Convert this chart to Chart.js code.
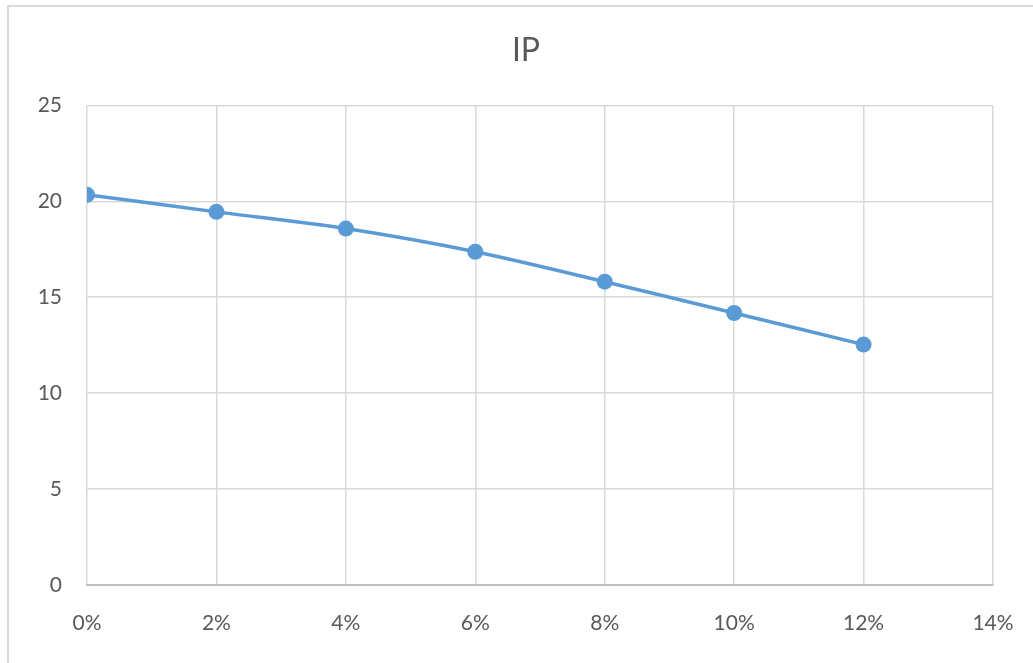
<!DOCTYPE html>
<html>
<head>
<meta charset="utf-8">
<title>IP</title>
<script src="https://cdn.jsdelivr.net/npm/chart.js@4.4.0/dist/chart.umd.min.js"></script>
<style>
    html, body { margin: 0; padding: 0; background: #fff; overflow: hidden; }
    #frame {
        position: absolute;
        left: 7px;
        top: 5px;
        width: 1034px;
        height: 656px;
        border: 2px solid #d9d9d9;
    }
    #chart { display: block; }
</style>
</head>
<body>
<div id="frame">
    <canvas id="chart" width="1034" height="656"></canvas>
</div>
<script>
// IP vs rate - Excel-style smoothed scatter

const rates = [0, 0.02, 0.04, 0.06, 0.08, 0.10, 0.12];
const ipValues = [20.34, 19.45, 18.58, 17.37, 15.81, 14.18, 12.53];
const xTicks = [0, 0.02, 0.04, 0.06, 0.08, 0.10, 0.12, 0.14];
const yTicks = [0, 5, 10, 15, 20, 25];

const TEXT = '#595959';
const GRID = '#d9d9d9';
const BLUE = '#5b9bd5';
const FONT = 'Lato, "Open Sans", sans-serif';

const points = rates.map((r, i) => ({ x: r, y: ipValues[i] }));

// Excel centres the title on the whole chart frame, not on the padded area
const centreTitle = {
    id: 'centreTitle',
    afterLayout(chart) {
        const t = chart.titleBlock;
        if (!t) return;
        t.left = 0;
        t.right = chart.width;
        t.width = chart.width;
    }
};

new Chart(document.getElementById('chart'), {
    type: 'scatter',
    data: {
        datasets: [{
            label: 'IP',
            data: points,
            showLine: true,
            borderColor: BLUE,
            backgroundColor: BLUE,
            borderWidth: 3.5,
            pointRadius: 8,
            pointHoverRadius: 8,
            pointBorderWidth: 0,
            tension: 0.3
        }]
    },
    options: {
        responsive: false,
        animation: false,
        layout: { padding: { left: 0, right: 50, top: 0, bottom: 0 } },
        plugins: {
            legend: { display: false },
            tooltip: { enabled: false },
            title: {
                display: true,
                text: 'IP',
                color: TEXT,
                font: { family: FONT, size: 32, weight: 'normal' },
                padding: { top: 24, bottom: 36 }
            }
        },
        scales: {
            x: {
                type: 'linear',
                min: xTicks[0],
                max: xTicks[xTicks.length - 1],
                afterBuildTicks: s => { s.ticks = xTicks.map(v => ({ value: v })); },
                afterFit: s => { s.height = 78; },
                border: { color: '#bfbfbf', width: 2 },
                grid: { color: GRID, lineWidth: 1.5, drawTicks: false },
                ticks: {
                    color: TEXT,
                    padding: 26,
                    maxRotation: 0,
                    font: { family: FONT, size: 21 },
                    callback: v => Math.round(v * 100) + '%'
                }
            },
            y: {
                min: yTicks[0],
                max: yTicks[yTicks.length - 1],
                afterBuildTicks: s => { s.ticks = yTicks.map(v => ({ value: v })); },
                afterFit: s => { s.width = 78; },
                border: { display: false },
                grid: { color: GRID, lineWidth: 1.5, drawTicks: false },
                ticks: {
                    color: TEXT,
                    padding: 25,
                    font: { family: FONT, size: 21 }
                }
            }
        }
    },
    plugins: [centreTitle]
});
</script>
</body>
</html>
